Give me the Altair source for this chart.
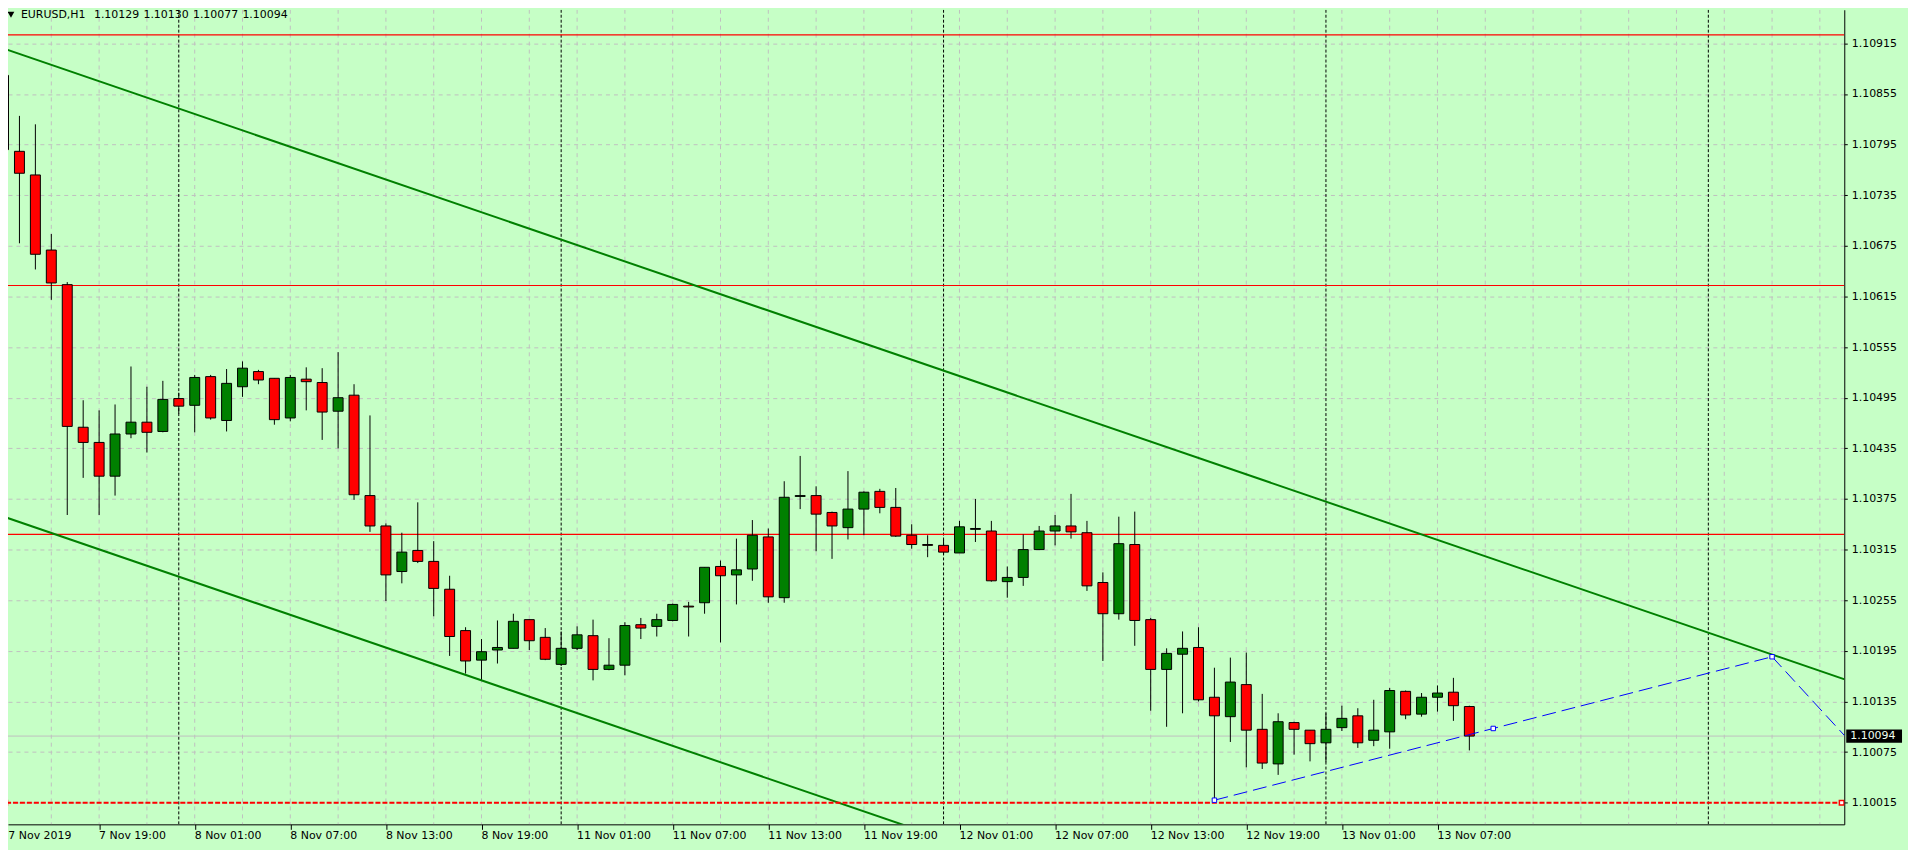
import altair as alt
import pandas as pd

# ---------------- data ----------------
bar_idx = list(range(93))  # H1 bars, 0 = 7 Nov 2019 13:00

opens = [
    1.10877, 1.10787, 1.10759, 1.10670, 1.10629, 1.10460, 1.10442, 1.10402, 1.10452, 1.10466,
    1.10455, 1.10494, 1.10486, 1.10520, 1.10468, 1.10508, 1.10526, 1.10518, 1.10471, 1.10517,
    1.10513, 1.10479, 1.10498, 1.10379, 1.10343, 1.10289, 1.10314, 1.10301, 1.10268, 1.10219,
    1.10184, 1.10196, 1.10198, 1.10232, 1.10211, 1.10179, 1.10198, 1.10213, 1.10173, 1.10178,
    1.10226, 1.10224, 1.10231, 1.10248, 1.10252, 1.10295, 1.10285, 1.10292, 1.10330, 1.10258,
    1.10378, 1.10379, 1.10359, 1.10341, 1.10363, 1.10384, 1.10365, 1.10332, 1.10321, 1.10320,
    1.10311, 1.10339, 1.10337, 1.10277, 1.10282, 1.10315, 1.10337, 1.10343, 1.10335, 1.10276,
    1.10239, 1.10321, 1.10232, 1.10173, 1.10191, 1.10199, 1.10140, 1.10117, 1.10155, 1.10102,
    1.10061, 1.10110, 1.10101, 1.10086, 1.10104, 1.10118, 1.10089, 1.10099, 1.10147, 1.10120,
    1.10140, 1.10146, 1.10129]

highs = [
    1.10909, 1.10829, 1.10819, 1.10689, 1.10632, 1.10492, 1.10480, 1.10487, 1.10532, 1.10508,
    1.10515, 1.10501, 1.10522, 1.10522, 1.10529, 1.10538, 1.10528, 1.10518, 1.10522, 1.10531,
    1.10530, 1.10549, 1.10511, 1.10474, 1.10346, 1.10335, 1.10371, 1.10325, 1.10284, 1.10223,
    1.10209, 1.10231, 1.10239, 1.10232, 1.10222, 1.10218, 1.10224, 1.10232, 1.10210, 1.10229,
    1.10234, 1.10239, 1.10251, 1.10253, 1.10294, 1.10302, 1.10328, 1.10350, 1.10340, 1.10396,
    1.10426, 1.10390, 1.10360, 1.10408, 1.10384, 1.10387, 1.10388, 1.10345, 1.10332, 1.10327,
    1.10349, 1.10375, 1.10349, 1.10295, 1.10333, 1.10343, 1.10356, 1.10381, 1.10349, 1.10288,
    1.10354, 1.10360, 1.10234, 1.10198, 1.10218, 1.10223, 1.10175, 1.10187, 1.10193, 1.10144,
    1.10121, 1.10111, 1.10101, 1.10121, 1.10130, 1.10127, 1.10137, 1.10151, 1.10148, 1.10145,
    1.10154, 1.10163, 1.10130]

lows = [
    1.10786, 1.10678, 1.10647, 1.10611, 1.10356, 1.10400, 1.10356, 1.10379, 1.10447, 1.10430,
    1.10454, 1.10476, 1.10454, 1.10469, 1.10455, 1.10496, 1.10511, 1.10463, 1.10467, 1.10480,
    1.10445, 1.10435, 1.10374, 1.10336, 1.10254, 1.10275, 1.10299, 1.10236, 1.10189, 1.10168,
    1.10160, 1.10180, 1.10198, 1.10196, 1.10184, 1.10177, 1.10196, 1.10160, 1.10172, 1.10166,
    1.10209, 1.10212, 1.10230, 1.10212, 1.10239, 1.10205, 1.10250, 1.10278, 1.10252, 1.10252,
    1.10363, 1.10313, 1.10304, 1.10327, 1.10332, 1.10358, 1.10330, 1.10316, 1.10306, 1.10309,
    1.10311, 1.10324, 1.10277, 1.10258, 1.10272, 1.10315, 1.10320, 1.10328, 1.10266, 1.10183,
    1.10232, 1.10201, 1.10124, 1.10105, 1.10121, 1.10135, 1.10018, 1.10087, 1.10057, 1.10055,
    1.10048, 1.10072, 1.10064, 1.10063, 1.10100, 1.10080, 1.10082, 1.10079, 1.10114, 1.10117,
    1.10123, 1.10112, 1.10077]

closes = [
    1.10789, 1.10761, 1.10665, 1.10631, 1.10461, 1.10442, 1.10402, 1.10452, 1.10466, 1.10454,
    1.10493, 1.10485, 1.10519, 1.10471, 1.10512, 1.10530, 1.10516, 1.10469, 1.10519, 1.10514,
    1.10478, 1.10495, 1.10380, 1.10343, 1.10285, 1.10312, 1.10301, 1.10269, 1.10212, 1.10183,
    1.10194, 1.10199, 1.10230, 1.10207, 1.10185, 1.10198, 1.10214, 1.10173, 1.10178, 1.10225,
    1.10222, 1.10232, 1.10250, 1.10247, 1.10294, 1.10284, 1.10291, 1.10332, 1.10259, 1.10377,
    1.10379, 1.10357, 1.10343, 1.10363, 1.10383, 1.10365, 1.10331, 1.10321, 1.10320, 1.10312,
    1.10342, 1.10340, 1.10278, 1.10282, 1.10315, 1.10337, 1.10343, 1.10336, 1.10272, 1.10239,
    1.10322, 1.10231, 1.10173, 1.10192, 1.10198, 1.10137, 1.10118, 1.10158, 1.10101, 1.10062,
    1.10111, 1.10102, 1.10085, 1.10102, 1.10115, 1.10086, 1.10101, 1.10148, 1.10119, 1.10140,
    1.10145, 1.10130, 1.10094]

time_label_idx = [0, 6, 12, 18, 24, 30, 36, 42, 48, 54, 60, 66, 72, 78, 84, 90]
time_labels = ["7 Nov 2019", "7 Nov 19:00", "8 Nov 01:00", "8 Nov 07:00", "8 Nov 13:00",
               "8 Nov 19:00", "11 Nov 01:00", "11 Nov 07:00", "11 Nov 13:00", "11 Nov 19:00",
               "12 Nov 01:00", "12 Nov 07:00", "12 Nov 13:00", "12 Nov 19:00", "13 Nov 01:00",
               "13 Nov 07:00"]

price_ticks = [1.10015, 1.10075, 1.10135, 1.10195, 1.10255, 1.10315, 1.10375, 1.10435,
               1.10495, 1.10555, 1.10615, 1.10675, 1.10735, 1.10795, 1.10855, 1.10915]

day_start_idx = [11, 35, 59, 83, 107]          # period separators (00:00 bars)
grid_idx = list(range(3, 115, 3))              # vertical grid every 3 bars

red_levels = [1.10925, 1.10628, 1.10333]       # horizontal lines
selected_level = [1.10015]                     # selected (dashed) horizontal line
selected_marker_idx = [0.1, 115.37]
bid_price = [1.10094]

channel_name = ["upper", "upper", "lower", "lower"]
channel_idx = [-0.04, 115.6, -0.04, 115.6]
channel_price = [1.109091, 1.101609, 1.103544, 1.096062]

blue_name = ["trend", "trend", "leg", "leg"]
blue_idx = [76, 111, 111, 116.5]
blue_price = [1.10018, 1.10188, 1.10188, 1.10075]

symbol_text = "EURUSD,H1"

# ---------------- layout / style ----------------
W, H = 1844, 818
X0 = 0.28125
X1 = X0 + W / 16.0
Y0, Y1 = 1.0998939, 1.1095477
BG = "#C6FFC6"
FONT = "DejaVu Sans"
FS = 11
GREEN = "#008000"
RED = "#FF0000"

xs = alt.Scale(domain=[X0, X1], zero=False, nice=False)
ys = alt.Scale(domain=[Y0, Y1], zero=False, nice=False)
x_axis = alt.Axis(values=[v for v in time_label_idx if v > X0], labels=False, tickSize=5,
                  tickColor="black", domainColor="black", grid=False, title=None)
y_axis = alt.Axis(orient="right", values=price_ticks, format=".5f", labelFont=FONT,
                  labelFontSize=FS, labelColor="black", labelAlign="left",
                  labelBaseline="middle", labelPadding=4, tickSize=3, tickColor="black",
                  domainColor="black", grid=True, gridColor="#C0C0C0", gridDash=[4, 4],
                  labelOverlap=False, labelFlush=False, title=None)


def X(f):
    return alt.X(f, type="quantitative", scale=xs, axis=x_axis)


def Y(f):
    return alt.Y(f, type="quantitative", scale=ys, axis=y_axis)


candles = pd.DataFrame({"i": bar_idx, "open": opens, "high": highs, "low": lows, "close": closes})

vgrid = alt.Chart(pd.DataFrame({"i": grid_idx})).mark_rule(
    color="#C0C0C0", strokeDash=[4, 4], strokeWidth=1, clip=True).encode(x=X("i"))

seps = alt.Chart(pd.DataFrame({"i": day_start_idx})).mark_rule(
    color="black", strokeDash=[3, 2], strokeWidth=1, clip=True).encode(x=X("i"))

bid_line = alt.Chart(pd.DataFrame({"p": bid_price})).mark_rule(
    color="#C0C0C0", strokeWidth=1, clip=True).encode(y=Y("p"))

wicks = alt.Chart(candles).mark_rule(color="black", strokeWidth=1, clip=True).encode(
    x=X("i"), y=Y("low"), y2=alt.Y2("high"))

bodies = alt.Chart(candles).transform_calculate(
    xl="datum.i - 0.3125", xr="datum.i + 0.3125"
).mark_rect(stroke="black", strokeWidth=1, clip=True).encode(
    x=X("xl"), x2=alt.X2("xr"), y=Y("open"), y2=alt.Y2("close"),
    fill=alt.condition("datum.close >= datum.open", alt.value(GREEN), alt.value(RED)))

red_lines = alt.Chart(pd.DataFrame({"p": red_levels})).mark_rule(
    color=RED, strokeWidth=1.2, clip=True).encode(y=Y("p"))

channels = alt.Chart(pd.DataFrame({"name": channel_name, "i": channel_idx, "p": channel_price})
                     ).mark_line(color=GREEN, strokeWidth=2, clip=True).encode(
    x=X("i"), y=Y("p"), detail="name:N")

sel_line = alt.Chart(pd.DataFrame({"p": selected_level})).mark_rule(
    color=RED, strokeWidth=2, strokeDash=[5, 2], clip=True).encode(y=Y("p"))

sel_marks = alt.Chart(pd.DataFrame({"i": selected_marker_idx,
                                    "p": selected_level * len(selected_marker_idx)})).mark_point(
    shape="square", filled=True, fill="white", stroke=RED, strokeWidth=1.5, size=22,
    opacity=1, clip=True).encode(x=X("i"), y=Y("p"))

blue_df = pd.DataFrame({"name": blue_name, "i": blue_idx, "p": blue_price})
blue_lines = alt.Chart(blue_df).mark_line(
    color="#0000FF", strokeWidth=1, strokeDash=[14, 6], clip=True).encode(
    x=X("i"), y=Y("p"), detail="name:N")

tr = blue_df[blue_df["name"] == "trend"]
blue_pts = pd.DataFrame({
    "i": [tr["i"].iloc[0], (tr["i"].iloc[0] + tr["i"].iloc[1]) / 2, tr["i"].iloc[1]],
    "p": [tr["p"].iloc[0], (tr["p"].iloc[0] + tr["p"].iloc[1]) / 2, tr["p"].iloc[1]],
})
blue_marks = alt.Chart(blue_pts).mark_point(
    shape="square", filled=True, fill="white", stroke="#0000FF", strokeWidth=1, size=20,
    opacity=1, clip=True).encode(x=X("i"), y=Y("p"))

bid_box = alt.Chart(pd.DataFrame({"p": bid_price})).mark_rect(
    color="black", yOffset=-6.7, y2Offset=6.7).encode(
    x=alt.value(W + 2), x2=alt.value(W + 58), y=Y("p"), y2=alt.Y2("p"))

bid_text = alt.Chart(pd.DataFrame({"p": bid_price, "t": ["%.5f" % bid_price[0]]})).mark_text(
    align="left", baseline="middle", color="#F0FFF0", font=FONT, fontSize=FS).encode(
    x=alt.value(W + 6), y=Y("p"), text="t:N")

# first label would start left of the visible plot: keep it inside the frame
time_text = alt.Chart(pd.DataFrame({"i": time_label_idx, "t": time_labels})).transform_calculate(
    xi="max(datum.i, %f)" % (X0 + 0.02)
).mark_text(align="left", baseline="middle", color="black", font=FONT, fontSize=FS).encode(
    x=X("xi"), y=alt.value(H + 12), text="t:N")

header_sym = alt.Chart(pd.DataFrame({"t": [symbol_text]})).mark_text(
    align="left", baseline="middle", color="black", font=FONT, fontSize=FS).encode(
    x=alt.value(13), y=alt.value(5), text="t:N")

last = [opens[-1], highs[-1], lows[-1], closes[-1]]
header_vals = []
for k, v in enumerate(last):
    header_vals.append(
        alt.Chart(pd.DataFrame({"t": ["%.5f" % v]})).mark_text(
            align="left", baseline="middle", color="black", font=FONT, fontSize=FS).encode(
            x=alt.value(86.3 + 49.7 * k), y=alt.value(5), text="t:N"))

tri = alt.Chart(pd.DataFrame({"a": [0]})).mark_point(
    shape="triangle-down", filled=True, color="black", size=45, opacity=1).encode(
    x=alt.value(3), y=alt.value(5))

chart = alt.layer(
    vgrid, seps, bid_line, red_lines, wicks, bodies, channels, sel_line, sel_marks,
    blue_lines, blue_marks, bid_box, bid_text, time_text, header_sym, *header_vals, tri
).properties(
    width=W, height=H,
    autosize=alt.AutoSizeParams(type="none"),
    padding={"left": 0, "top": 0, "right": 64, "bottom": 24},
).configure(background=BG).configure_view(stroke=None, fill=BG)

chart.save("out.html", embed_options={"renderer": "svg", "actions": False})
